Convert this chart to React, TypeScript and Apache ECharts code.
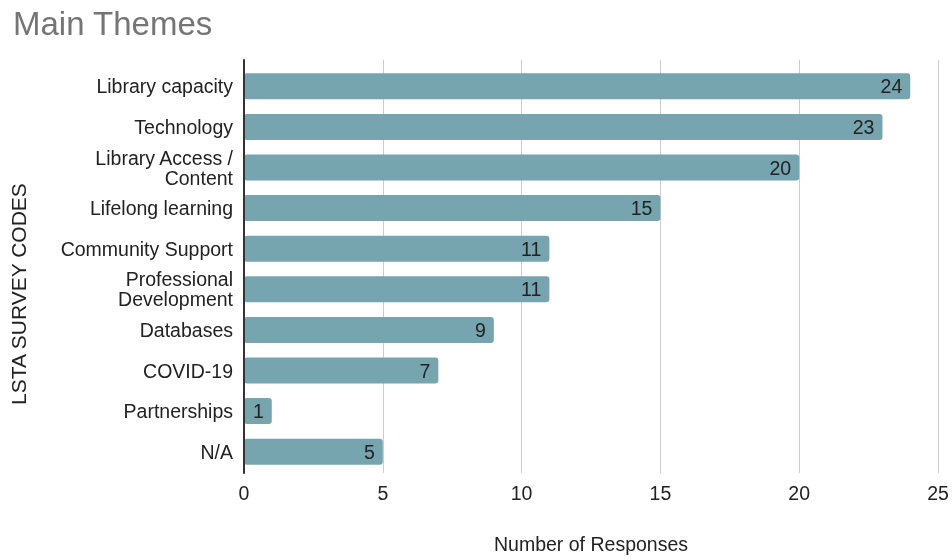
import React, { useEffect, useRef } from "react";
import * as echarts from "echarts";

const categories = [
  "Library capacity",
  "Technology",
  "Library Access /\nContent",
  "Lifelong learning",
  "Community Support",
  "Professional\nDevelopment",
  "Databases",
  "COVID-19",
  "Partnerships",
  "N/A",
];
const responses = [24, 23, 20, 15, 11, 11, 9, 7, 1, 5];
const xTicks = { min: 0, max: 25, interval: 5 };
const titleText = "Main Themes";
const xName = "Number of Responses";
const yName = "LSTA SURVEY CODES";

export default function App() {
  const ref = useRef<HTMLDivElement>(null);
  useEffect(() => {
    const chart = echarts.init(ref.current!, null, { renderer: "svg" });
    const font = "'Liberation Sans', Arial, sans-serif";
    const fs = 19.5;
    chart.setOption({
      animation: false,
      title: {
        text: titleText,
        left: 8,
        top: 2,
        textStyle: { fontFamily: font, fontSize: 33, fontWeight: "normal", color: "#757575" },
      },
      graphic: [
        {
          type: "text",
          x: 18,
          y: 294,
          rotation: Math.PI / 2,
          style: {
            text: yName,
            align: "center",
            verticalAlign: "middle",
            fontFamily: font,
            fontSize: 21,
            fill: "#222",
          },
        },
      ],
      grid: [
        { left: 244, right: 14, top: 66, bottom: 87, containLabel: false },
        { left: 244, right: 14, top: 60, bottom: 81, containLabel: false },
      ],
      xAxis: [
        {
          type: "value",
          gridIndex: 0,
          min: xTicks.min,
          max: xTicks.max,
          interval: xTicks.interval,
          show: false,
          splitLine: { show: false },
        },
        {
          type: "value",
          gridIndex: 1,
          min: xTicks.min,
          max: xTicks.max,
          interval: xTicks.interval,
          name: xName,
          nameLocation: "middle",
          nameGap: 61,
          nameTextStyle: { fontFamily: font, fontSize: fs, color: "#222" },
          axisLine: { show: false },
          axisTick: { show: false },
          axisLabel: { fontFamily: font, fontSize: fs, color: "#222", margin: 10 },
          splitLine: { show: true, lineStyle: { color: "#cccccc", width: 1 } },
          z: 0,
        },
      ],
      yAxis: [
        {
          type: "category",
          gridIndex: 0,
          data: categories,
          inverse: true,
          axisLine: { show: false },
          axisTick: { show: false },
          axisLabel: { fontFamily: font, fontSize: fs, color: "#222", margin: 11, lineHeight: 20 },
        },
        {
          type: "value",
          gridIndex: 1,
          min: 0,
          max: 1,
          position: "left",
          axisLine: { show: true, onZero: false, lineStyle: { color: "#333", width: 2 } },
          axisTick: { show: false },
          axisLabel: { show: false },
          splitLine: { show: false },
          z: 3,
        },
      ],
      series: [
        {
          type: "bar",
          xAxisIndex: 0,
          yAxisIndex: 0,
          data: responses,
          barCategoryGap: "36%",
          itemStyle: { color: "#76a5af", borderRadius: 3 },
          label: {
            show: true,
            position: "insideRight",
            distance: 8,
            fontFamily: font,
            fontSize: fs,
            color: "#222",
          },
          z: 2,
        },
      ],
    });
    return () => chart.dispose();
  }, []);
  return (
    <div
      ref={ref}
      style={{ position: "fixed", left: 0, top: 0, width: 952, height: 559 }}
    />
  );
}
